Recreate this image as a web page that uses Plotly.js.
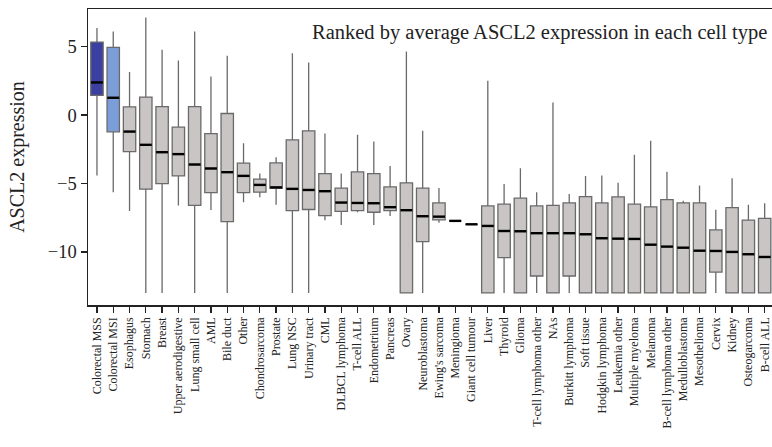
<!DOCTYPE html>
<html>
<head>
<meta charset="utf-8">
<script src="https://cdn.plot.ly/plotly-3.0.1.min.js"></script>
<style>html,body{margin:0;padding:0;background:#fff;}#chart{width:772px;height:447px;}</style>
</head>
<body>
<div id="chart"></div>
<script>
const categories = ["Colorectal MSS","Colorectal MSI","Esophagus","Stomach","Breast","Upper aerodigestive","Lung small cell","AML","Bile duct","Other","Chondrosarcoma","Prostate","Lung NSC","Urinary tract","CML","DLBCL lymphoma","T-cell ALL","Endometrium","Pancreas","Ovary","Neuroblastoma","Ewing's sarcoma","Meningioma","Giant cell tumour","Liver","Thyroid","Glioma","T-cell lymphoma other","NAs","Burkitt lymphoma","Soft tissue","Hodgkin lymphoma","Leukemia other","Multiple myeloma","Melanoma","B-cell lymphoma other","Medulloblastoma","Mesothelioma","Cervix","Kidney","Osteogarcoma","B-cell ALL"];
const upperWhisker = [6.37,6.12,3.15,7.14,4.78,4.0,6.12,2.83,4.34,-2.05,-4.27,-3.07,4.53,3.85,-1.35,-4.27,-1.44,-1.93,-3.71,4.66,-1.15,-5.32,-7.73,-7.98,2.51,-5.03,-3.88,-5.63,0.92,-5.76,-4.44,-4.42,-4.95,-2.9,-1.88,-4.13,-6.25,-5.15,-6.91,-4.61,-6.56,-6.44];
const q3 = [5.34,4.95,0.61,1.32,0.63,-0.88,0.63,-1.35,0.12,-3.51,-4.68,-3.49,-1.81,-1.15,-4.27,-5.34,-4.15,-4.27,-5.25,-4.95,-5.34,-6.42,-7.73,-7.98,-6.64,-6.51,-6.07,-6.64,-6.59,-6.42,-5.96,-6.42,-5.98,-6.51,-6.71,-6.18,-6.42,-6.42,-8.39,-6.76,-7.68,-7.54];
const median = [2.39,1.27,-1.2,-2.17,-2.71,-2.85,-3.61,-3.9,-4.17,-4.44,-5.1,-5.28,-5.39,-5.47,-5.56,-6.39,-6.42,-6.44,-6.73,-6.95,-7.39,-7.42,-7.73,-7.98,-8.1,-8.47,-8.49,-8.63,-8.63,-8.63,-8.71,-9.0,-9.03,-9.05,-9.47,-9.61,-9.69,-9.91,-9.93,-10.0,-10.17,-10.37];
const q1 = [1.44,-1.22,-2.66,-5.41,-5.0,-4.44,-6.59,-5.66,-7.78,-5.66,-5.63,-5.35,-6.98,-6.9,-7.34,-7.03,-6.98,-7.1,-6.98,-13.0,-9.25,-7.66,-7.73,-7.98,-13.0,-10.42,-13.0,-11.76,-13.0,-11.76,-13.0,-13.0,-13.0,-13.0,-13.0,-13.0,-13.0,-13.0,-11.47,-13.0,-13.0,-13.0];
const lowerWhisker = [-4.42,-5.63,-7.0,-13.0,-13.0,-6.61,-13.0,-6.93,-13.0,-6.37,-6.0,-6.56,-13.0,-13.0,-7.68,-8.03,-7.1,-8.03,-7.37,-13.0,-13.0,-7.86,-7.73,-7.98,-13.0,-13.0,-13.0,-13.0,-13.0,-13.0,-13.0,-13.0,-13.0,-13.0,-13.0,-13.0,-13.0,-13.0,-13.0,-13.0,-13.0,-13.0];
const yTickVals = [-10,-5,0,5];
const yTickText = ["\u221210","\u22125","0","5"];
const noteText = "Ranked by average ASCL2 expression in each cell type";
const yTitle = "ASCL2 expression";

const FONT = "Liberation Serif, Times New Roman, serif";
const groups = [
  {from:0, to:1, fill:"#3b3fa2"},
  {from:1, to:2, fill:"#7b9ed9"},
  {from:2, to:categories.length, fill:"#c9c5c4"}
];
const traces = groups.map(g => ({
  type:"box",
  x: categories.slice(g.from, g.to),
  q1: q1.slice(g.from, g.to),
  median: median.slice(g.from, g.to),
  q3: q3.slice(g.from, g.to),
  lowerfence: lowerWhisker.slice(g.from, g.to),
  upperfence: upperWhisker.slice(g.from, g.to),
  fillcolor: g.fill,
  line:{color:"#6a6a6a", width:1.3},
  whiskerwidth:0,
  boxpoints:false,
  hoverinfo:"skip"
}));
traces.push({
  type:"scatter", mode:"markers",
  x: categories, y: median,
  marker:{symbol:"line-ew", size:8.5, color:"#000", line:{color:"#000", width:2.4}},
  hoverinfo:"skip", cliponaxis:true
});

const layout = {
  width:772, height:447,
  margin:{l:88, r:0, t:9, b:142},
  paper_bgcolor:"#fff", plot_bgcolor:"#fff",
  showlegend:false,
  boxmode:"overlay", boxgap:0.24, boxgroupgap:0,
  font:{family:FONT, color:"#222"},
  xaxis:{
    type:"category", categoryarray:categories, categoryorder:"array",
    range:[-0.55, 41.45],
    showline:true, mirror:true, linecolor:"#222", linewidth:1.5,
    ticks:"outside", ticklen:6, tickwidth:1.3, tickcolor:"#222",
    tickangle:-90, tickfont:{family:FONT, size:12, color:"#222"},
    showgrid:false, zeroline:false, fixedrange:true
  },
  yaxis:{
    range:[-13.88, 7.76],
    showline:true, linecolor:"#222", linewidth:1.5,
    ticks:"outside", ticklen:6, tickwidth:1.3, tickcolor:"#222",
    tickvals:yTickVals, ticktext:yTickText,
    tickfont:{family:FONT, size:18.5, color:"#222"},
    showgrid:false, zeroline:false,
    title:{text:yTitle, font:{family:FONT, size:20, color:"#222"}, standoff:18}
  },
  annotations:[{
    xref:"paper", yref:"paper", x:0.995, y:0.922, xanchor:"right", yanchor:"middle",
    text:noteText, showarrow:false, font:{family:FONT, size:20.5, color:"#222"}
  }]
};
Plotly.newPlot("chart", traces, layout, {staticPlot:true, displayModeBar:false});
</script>
</body>
</html>
